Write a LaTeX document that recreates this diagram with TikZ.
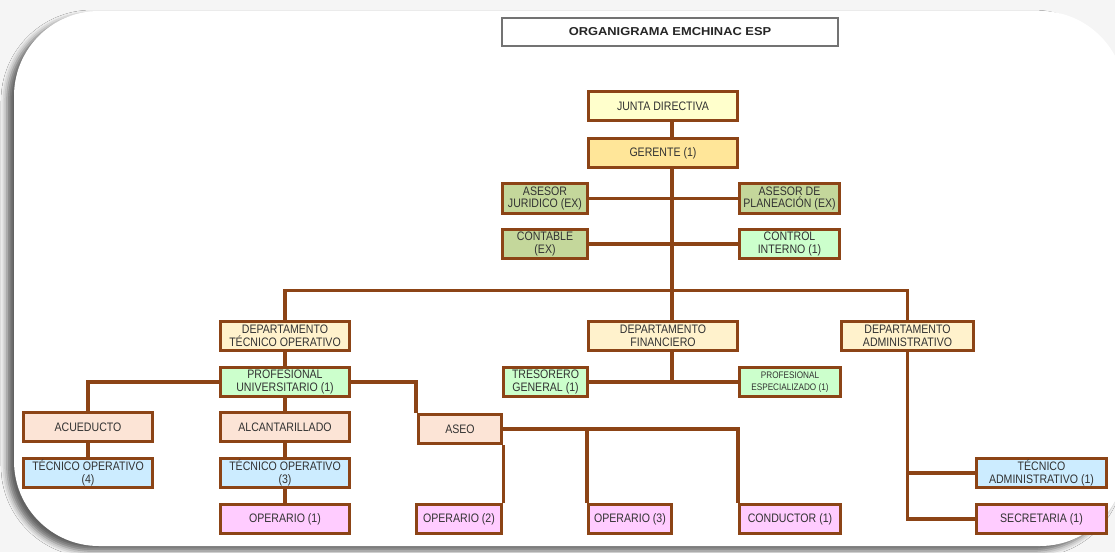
\documentclass[tikz,border=0pt]{standalone}
\usepackage{fontspec}
\setmainfont[FakeStretch=0.86]{Liberation Sans}
\newfontfamily\titlefont[FakeStretch=1.12]{Liberation Sans}
\usetikzlibrary{shadows.blur,calc,backgrounds}
\definecolor{brn}{RGB}{140,68,22}
\definecolor{txt}{RGB}{50,50,50}
\definecolor{jdcol}{RGB}{255,255,204}
\definecolor{gercol}{RGB}{255,230,153}
\definecolor{olive}{RGB}{196,215,155}
\definecolor{lgreen}{RGB}{204,255,204}
\definecolor{dept}{RGB}{255,242,204}
\definecolor{peach}{RGB}{252,228,214}
\definecolor{lblue}{RGB}{204,236,255}
\definecolor{pinkc}{RGB}{255,204,255}
\tikzset{
  box/.style={draw=brn, line width=3.2pt, minimum height=29pt, text=txt,
    align=center, inner sep=0pt, font=\fontsize{12.3}{12.5}\selectfont},
  conn/.style={draw=brn, line width=3.2pt},
  frame/.style={fill=white, rounded corners=85pt,
    blur shadow={shadow xshift=-7pt, shadow yshift=-5pt, shadow blur radius=6pt, shadow opacity=60}},
  titlebox/.style={draw=black!55, line width=2.2pt, fill=white, minimum width=336pt,
    minimum height=28pt, inner sep=0pt, font=\titlefont\bfseries\fontsize{11.5}{12}\selectfont, text=black!85}
}
\begin{document}
\begin{tikzpicture}[x=1pt,y=-1pt]
\useasboundingbox (0,0) rectangle (1115,552);
\begin{pgfonlayer}{background}
\fill[black!4] (0,0) rectangle (1115,552);
\path[frame] (14,11) rectangle (1125,546);
\end{pgfonlayer}
\node[titlebox] (title) at (670,32) {ORGANIGRAMA EMCHINAC ESP};
\coordinate (vx) at (672,0);
\coordinate (bus) at (0,290.5);
% nodes
\node[box, fill=jdcol, minimum width=149pt] (jd) at (663,106) {JUNTA DIRECTIVA};
\node[box, fill=gercol, minimum width=149pt] (ger) at (663,153) {GERENTE (1)};
\node[box, fill=olive, minimum width=85pt, minimum height=30pt] (aj) at (545,198.5) {ASESOR\\JURIDICO (EX)};
\node[box, fill=olive, minimum width=100pt, minimum height=30pt] (ap) at (789.5,198.5) {ASESOR DE\\PLANEACIÓN (EX)};
\node[box, fill=olive, minimum width=85pt] (con) at (545,244) {CONTABLE\\(EX)};
\node[box, fill=lgreen, minimum width=100pt] (ci) at (789.5,244) {CONTROL\\INTERNO (1)};
\node[box, fill=dept, minimum width=129pt] (dto) at (285,336) {DEPARTAMENTO\\TÉCNICO OPERATIVO};
\node[box, fill=dept, minimum width=149pt] (dfin) at (663,336) {DEPARTAMENTO\\FINANCIERO};
\node[box, fill=dept, minimum width=132pt] (dadm) at (907.5,336) {DEPARTAMENTO\\ADMINISTRATIVO};
\node[box, fill=lgreen, minimum width=129pt] (pu) at (285,382) {PROFESIONAL\\UNIVERSITARIO (1)};
\node[box, fill=lgreen, minimum width=84pt] (tg) at (545.5,382) {TRESORERO\\GENERAL (1)};
\node[box, fill=lgreen, minimum width=101pt, font=\fontsize{9.5}{12.5}\selectfont] (pe) at (790,382) {PROFESIONAL\\ESPECIALIZADO (1)};
\node[box, fill=peach, minimum width=129pt] (acu) at (88,427) {ACUEDUCTO};
\node[box, fill=peach, minimum width=129pt] (alc) at (285,427) {ALCANTARILLADO};
\node[box, fill=peach, minimum width=83pt] (aseo) at (460,429) {ASEO};
\node[box, fill=lblue, minimum width=129pt] (to4) at (88,473) {TÉCNICO OPERATIVO\\(4)};
\node[box, fill=lblue, minimum width=129pt] (to3) at (285,473) {TÉCNICO OPERATIVO\\(3)};
\node[box, fill=pinkc, minimum width=129pt] (op1) at (285,519) {OPERARIO (1)};
\node[box, fill=pinkc, minimum width=85pt] (op2) at (459,519) {OPERARIO (2)};
\node[box, fill=pinkc, minimum width=83pt] (op3) at (630,519) {OPERARIO (3)};
\node[box, fill=pinkc, minimum width=101pt] (cond) at (790,519) {CONDUCTOR (1)};
\node[box, fill=lblue, minimum width=130pt] (tadm) at (1041.5,473) {TÉCNICO\\ADMINISTRATIVO (1)};
\node[box, fill=pinkc, minimum width=130pt] (sec) at (1041.5,519) {SECRETARIA (1)};
% connectors (behind the boxes, above the frame)
\begin{pgfonlayer}{background}
\draw[conn] (jd.south -| vx) -- (ger.north -| vx);
\draw[conn] (ger.south -| vx) -- (dfin.north -| vx);
\draw[conn] (aj.east) -- (aj.east -| vx);
\draw[conn] (ap.west) -- (ap.west -| vx);
\draw[conn] (con.east) -- (con.east -| vx);
\draw[conn] (ci.west) -- (ci.west -| vx);
\draw[conn] (dto.north) -- (dto.north |- bus) -- (dadm.north |- bus) -- (dadm.north);
\draw[conn] (dto.south) -- (pu.north);
\draw[conn] (pu.south) -- (alc.north);
\draw[conn] (alc.south) -- (to3.north);
\draw[conn] (to3.south) -- (op1.north);
\draw[conn] (acu.south) -- (to4.north);
\draw[conn] (pu.west) -| (acu.north);
\draw[conn] (pu.east) -| ([xshift=-1pt]aseo.north west);
\draw[conn] (dfin.south -| vx) -- (tg.east -| vx);
\draw[conn] (tg.east) -- (pe.west);
\draw[conn] (aseo.east) -| (cond.north west);
\draw[conn] (aseo.east -| op3.north west) -- (op3.north west);
\draw[conn] (aseo.south east) -- (op2.north east);
\draw[conn] (dadm.south) -- (dadm.south |- sec.west) -- (sec.west);
\draw[conn] (dadm.south |- tadm.west) -- (tadm.west);
\end{pgfonlayer}
\end{tikzpicture}
\end{document}
